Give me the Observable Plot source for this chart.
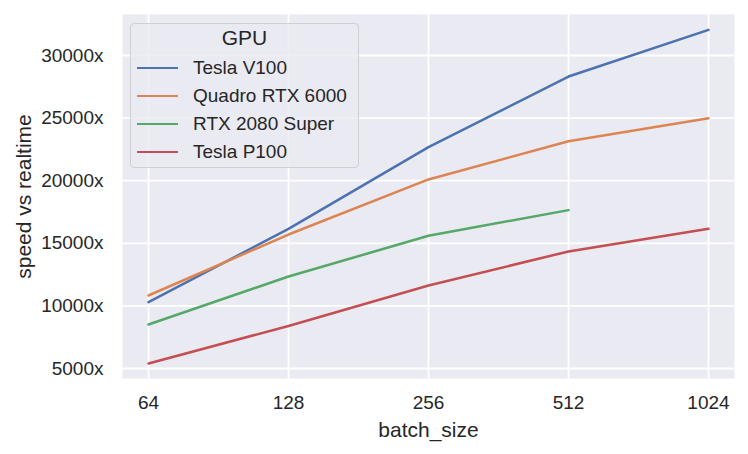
<!DOCTYPE html>
<html>
<head>
<meta charset="utf-8">
<script src="https://cdn.jsdelivr.net/npm/d3@7"></script>
<script src="https://cdn.jsdelivr.net/npm/@observablehq/plot@0.6"></script>
<style>
  html, body { margin: 0; padding: 0; background: #fff; }
  #wrap { position: relative; width: 748px; height: 454px; font-family: "Liberation Sans", Arial, sans-serif; color: #262626; }
  #legend { position: absolute; left: 130px; top: 23px; width: 229px; height: 145px; border: 1px solid #cfcfd6; border-radius: 4px; background: rgba(234,234,242,0.8); box-sizing: border-box; }
  #legend .title { position: absolute; left: 0; width: 100%; top: 2px; text-align: center; font-size: 21px; line-height: 24px; }
  #legend .row { position: absolute; left: 6px; height: 22px; display: flex; align-items: center; font-size: 19px; white-space: nowrap; }
  #legend .sw { width: 41px; height: 2.6px; margin-right: 15px; }
</style>
</head>
<body>
<div id="wrap"></div>
<script>
const batchSizes = [64, 128, 256, 512, 1024];
const gpus = ["Tesla V100", "Quadro RTX 6000", "RTX 2080 Super", "Tesla P100"];
const colors = ["#4C72B0", "#DD8452", "#55A868", "#C44E52"];
const teslaV100 = [10300, 16150, 22680, 28320, 32050];
const quadroRTX6000 = [10830, 15700, 20100, 23150, 24990];
const rtx2080Super = [8510, 12350, 15600, 17650, null];
const teslaP100 = [5400, 8400, 11630, 14350, 16160];
const yTicks = [5000, 10000, 15000, 20000, 25000, 30000];
const xLabel = "batch_size";
const yLabel = "speed vs realtime";

const seriesValues = [teslaV100, quadroRTX6000, rtx2080Super, teslaP100];
const rows = [];
gpus.forEach((g, i) => {
  batchSizes.forEach((b, j) => {
    const v = seriesValues[i][j];
    if (v != null) rows.push({gpu: g, batch: b, speed: v});
  });
});

const chart = Plot.plot({
  width: 748,
  height: 454,
  marginLeft: 122,
  marginRight: 14,
  marginTop: 14,
  marginBottom: 76,
  style: {fontFamily: '"Liberation Sans", Arial, sans-serif', fontSize: "19px", color: "#262626", background: "white"},
  x: {type: "log", base: 2, domain: [64 * Math.pow(2, -26/140), 1024 * Math.pow(2, 26/140)]},
  y: {domain: [4201, 33275]},
  color: {domain: gpus, range: colors},
  marks: [
    Plot.frame({fill: "#EAEAF2", stroke: null}),
    Plot.gridX(batchSizes, {stroke: "white", strokeOpacity: 1, strokeWidth: 1.8}),
    Plot.gridY(yTicks, {stroke: "white", strokeOpacity: 1, strokeWidth: 1.8}),
    Plot.axisX(batchSizes, {tickSize: 0, tickPadding: 17, tickFormat: d => String(d), label: null, fill: "#262626"}),
    Plot.axisY(yTicks, {tickSize: 0, tickPadding: 19, tickFormat: d => d + "x", label: null, fill: "#262626"}),
    Plot.text([xLabel], {frameAnchor: "bottom", dy: 52, lineAnchor: "middle", textAnchor: "middle", fontSize: 21, fill: "#262626", text: d => d}),
    Plot.text([yLabel], {frameAnchor: "left", dx: -98, rotate: -90, lineAnchor: "middle", textAnchor: "middle", fontSize: 21, fill: "#262626", text: d => d}),
    Plot.line(rows, {x: "batch", y: "speed", z: "gpu", stroke: "gpu", strokeWidth: 2.5})
  ]
});

const wrap = document.getElementById("wrap");
wrap.appendChild(chart);

const legend = document.createElement("div");
legend.id = "legend";
const title = document.createElement("div");
title.className = "title";
title.textContent = "GPU";
legend.appendChild(title);
gpus.forEach((g, i) => {
  const row = document.createElement("div");
  row.className = "row";
  row.style.top = (33 + i * 28) + "px";
  const sw = document.createElement("div");
  sw.className = "sw";
  sw.style.background = colors[i];
  const t = document.createElement("span");
  t.textContent = g;
  row.appendChild(sw);
  row.appendChild(t);
  legend.appendChild(row);
});
wrap.appendChild(legend);
</script>
</body>
</html>
